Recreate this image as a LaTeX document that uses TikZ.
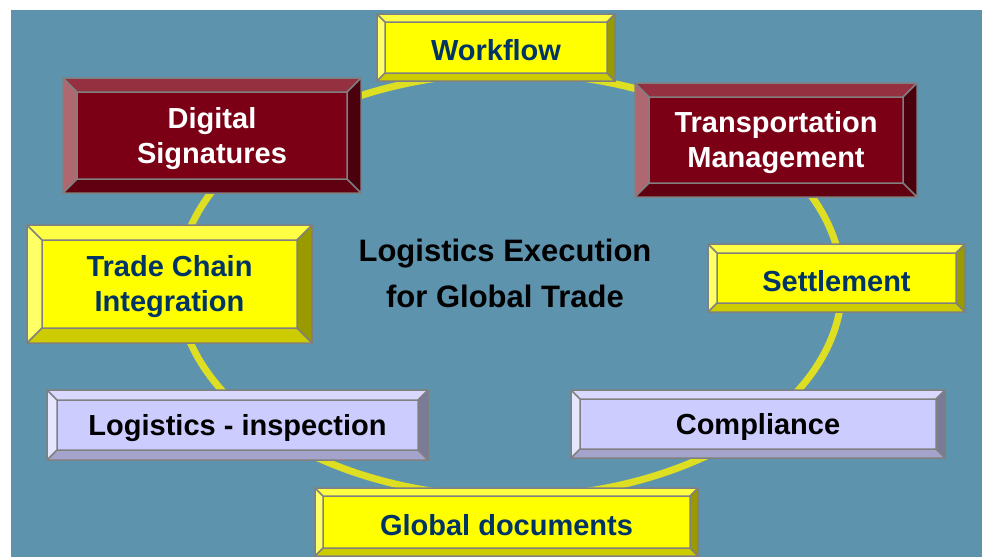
\documentclass[tikz,border=0pt]{standalone}
\usepackage{fontspec}
\setmainfont{Liberation Sans}

\definecolor{bgblue}{RGB}{94,147,174}
\definecolor{ringyel}{RGB}{222,222,34}
\definecolor{boxgrey}{RGB}{128,128,128}
% yellow boxes
\definecolor{yelface}{RGB}{255,255,0}
\definecolor{yeltop}{RGB}{255,255,68}
\definecolor{yellft}{RGB}{255,255,102}
\definecolor{yelbot}{RGB}{204,204,0}
\definecolor{yelrgt}{RGB}{153,153,0}
\definecolor{yeltxt}{RGB}{0,51,102}
% maroon boxes
\definecolor{marface}{RGB}{123,0,22}
\definecolor{martop}{RGB}{148,48,64}
\definecolor{marlft}{RGB}{176,104,112}
\definecolor{marbot}{RGB}{96,0,17}
\definecolor{marrgt}{RGB}{74,0,13}
\definecolor{martxt}{RGB}{255,255,255}
% lavender boxes
\definecolor{lavface}{RGB}{204,204,255}
\definecolor{lavtop}{RGB}{217,217,255}
\definecolor{lavlft}{RGB}{230,230,255}
\definecolor{lavbot}{RGB}{163,163,204}
\definecolor{lavrgt}{RGB}{122,122,153}
\definecolor{lavtxt}{RGB}{0,0,0}

\tikzset{
	ring/.style={draw=ringyel, line width=7pt},
	boxline/.style={draw=boxgrey, line width=1.5pt},
	boxtxt/.style={font=\bfseries\fontsize{29}{35}\selectfont, align=center, inner sep=0pt, yshift=-3pt},
}

% #1 name, #2 #3 top left, #4 #5 bottom right, #6 bevel, #7 palette, #8 text
\newcommand{\bevbox}[8]{%
	\fill[#7top] (#2,#3) -- (#4,#3) -- (#4-#6,#3+#6) -- (#2+#6,#3+#6) -- cycle;
	\fill[#7bot] (#2,#5) -- (#4,#5) -- (#4-#6,#5-#6) -- (#2+#6,#5-#6) -- cycle;
	\fill[#7lft] (#2,#3) -- (#2+#6,#3+#6) -- (#2+#6,#5-#6) -- (#2,#5) -- cycle;
	\fill[#7rgt] (#4,#3) -- (#4-#6,#3+#6) -- (#4-#6,#5-#6) -- (#4,#5) -- cycle;
	\fill[#7face] (#2+#6,#3+#6) rectangle (#4-#6,#5-#6);
	\draw[boxline] (#2,#3) rectangle (#4,#5) (#2+#6,#3+#6) rectangle (#4-#6,#5-#6)
	(#2,#3)--(#2+#6,#3+#6) (#4,#3)--(#4-#6,#3+#6) (#2,#5)--(#2+#6,#5-#6) (#4,#5)--(#4-#6,#5-#6);
	\node[boxtxt, text=#7txt] (#1) at ({(#2+#4)/2},{(#3+#5)/2}) {#8};
}

\begin{document}
\begin{tikzpicture}[x=1pt,y=-1pt]
			\useasboundingbox (0,0) rectangle (982,557);
			\fill[bgblue] (11,10) rectangle (982,557);
			\draw[ring] (510,285) ellipse [x radius=332pt, y radius=212pt];
			\node[font=\bfseries\fontsize{31}{46}\selectfont, align=center, inner sep=0pt] (title) at (505,273) {Logistics Execution\\for Global Trade};
			\bevbox{work}{377}{14}{615}{81}{8}{yel}{Workflow}
			\bevbox{digsig}{63}{78}{361}{193}{14}{mar}{Digital\\Signatures}
			\bevbox{transp}{635}{83}{917}{197}{14}{mar}{Transportation\\Management}
			\bevbox{settle}{708}{244}{965}{312}{9}{yel}{Settlement}
			\bevbox{comply}{571}{390}{945}{458}{9}{lav}{Compliance}
			\bevbox{globdoc}{315}{488}{698}{556}{8}{yel}{Global documents}
			\bevbox{loginsp}{47}{390}{428}{460}{10}{lav}{Logistics - inspection}
			\bevbox{trade}{27}{225}{312}{343}{15}{yel}{Trade Chain\\Integration}
\end{tikzpicture}
\end{document}
